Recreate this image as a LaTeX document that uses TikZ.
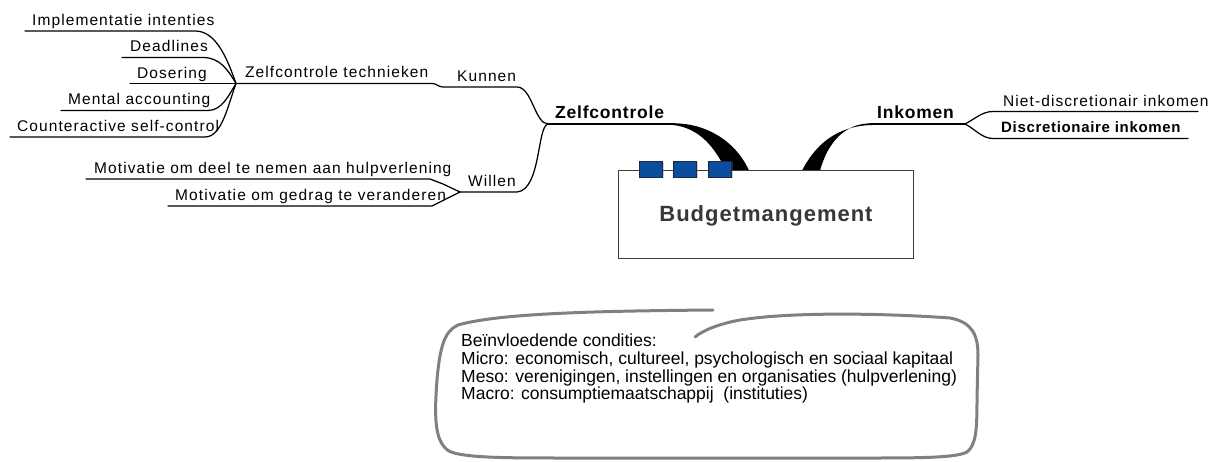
\documentclass[tikz,border=0pt]{standalone}
\usepackage{fontspec}
\setmainfont{Liberation Sans}
\newfontfamily\lsfont{Liberation Sans}[LetterSpace=7]
\newfontfamily\lsbfont{Liberation Sans}[LetterSpace=4.5]
\usetikzlibrary{shadows}
\definecolor{boxblue}{RGB}{12,78,158}
\definecolor{sqborder}{RGB}{25,40,70}
\definecolor{calloutgray}{RGB}{128,128,128}
\definecolor{titlegray}{RGB}{55,55,55}
\definecolor{boxline}{RGB}{60,60,60}
\begin{document}
\begin{tikzpicture}[x=1pt,y=-1pt,
  br/.style={line width=1.25pt,line cap=round,line join=round},
  lbl/.style={anchor=base west,inner sep=0pt,font=\lsfont\fontsize{15.5}{18}\selectfont},
  blbl/.style={anchor=base west,inner sep=0pt,font=\lsbfont\bfseries\fontsize{17.5}{20}\selectfont},
  sblbl/.style={anchor=base west,inner sep=0pt,font=\lsbfont\bfseries\fontsize{15}{18}\selectfont},
  wedge/.style={fill=black},
  mainbox/.style={draw=boxline,line width=1pt,fill=white,minimum width=295pt,minimum height=88pt,inner sep=0pt,anchor=north west},
  sq/.style={draw=sqborder,fill=boxblue,line width=0.8pt,minimum width=23.5pt,minimum height=16pt,inner sep=0pt,
    drop shadow={shadow xshift=1.2pt,shadow yshift=-1.2pt,opacity=0.35}},
  callout/.style={draw=calloutgray,line width=3pt,line cap=round,line join=round},
  condtext/.style={anchor=north west,inner sep=0pt,align=left,font=\fontsize{17.5}{17.6}\selectfont}]
\useasboundingbox (0,0) rectangle (1208,462);

% ---------- left tree labels ----------
\node[lbl] (impl) at (32,25.5) {Implementatie intenties};
\node[lbl] (dead) at (130,52) {Deadlines};
\node[lbl] (dos) at (137,78.5) {Dosering};
\node[lbl] (ment) at (68,105) {Mental accounting};
\node[lbl] (coun) at (17,131.5) {Counteractive self-control};
\node[lbl] (zt) at (245,78) {Zelfcontrole technieken};
\node[lbl] (kun) at (457,82) {Kunnen};
\node[blbl] (zc) at (555,119) {Zelfcontrole};
\node[lbl] (wil) at (468,187) {Willen};
\node[lbl] (mot1) at (94,174) {Motivatie om deel te nemen aan hulpverlening};
\node[lbl] (mot2) at (175,201) {Motivatie om gedrag te veranderen};

% ---------- right labels ----------
\node[blbl] (ink) at (877,119) {Inkomen};
\node[lbl] (nd) at (1003,106.5) {Niet-discretionair inkomen};
\node[sblbl] (di) at (1001,133) {Discretionaire inkomen};

% ---------- hubs ----------
\coordinate (hub) at (236,83.5);
\coordinate (zch) at (548,124);
\coordinate (wh) at (460,192);
\coordinate (ih) at (965,124);
\coordinate (zend) at (675,124);
\coordinate (iend) at (870,124);

% ---------- left tree lines ----------
\draw[br] (25,31) -- (195,31) .. controls (215,31) and (226,55) .. (hub);
\draw[br] (122,57.5) -- (203,57.5) .. controls (220,57.5) and (228,70) .. (hub);
\draw[br] (130,83.5) -- (hub);
\draw[br] (61,110.5) -- (208,110.5) .. controls (222,110.5) and (229,95) .. (hub);
\draw[br] (10,137) -- (205,137) .. controls (222,137) and (228,105) .. (hub);
\draw[br] (hub) -- (432,83.5) .. controls (437,83.5) and (438,87) .. (443,87) -- (517,87) .. controls (532,87) and (535,124) .. (zch);
\draw[br,line width=1.5pt] (zch) -- (zend);
\draw[br] (zch) .. controls (537,126) and (541,190) .. (517,192) -- (wh);
\draw[br] (86,179) -- (430,179) -- (443,184) -- (wh);
\draw[br] (168,206) -- (432,206) -- (wh);

% ---------- right lines ----------
\draw[br,line width=1.5pt] (iend) -- (ih);
\draw[br] (ih) .. controls (975,119) and (982,111.5) .. (993,111.5) -- (1198,111.5);
\draw[br] (ih) .. controls (975,129) and (982,138.5) .. (993,138.5) -- (1188,138.5);

% ---------- wedges ----------
\fill[wedge] (673,123.3) .. controls (705,123) and (735,140) .. (749,170.5) -- (726,170.5) .. controls (715,148) and (700,128) .. (673,125) -- cycle;
\fill[wedge] (872,123.3) .. controls (845,123) and (828,142) .. (820,170.5) -- (802,170.5) .. controls (815,146) and (835,126) .. (872,125) -- cycle;

% ---------- central box ----------
\node[mainbox] (box) at (618,170) {};
\node[anchor=base,inner sep=0pt,text=titlegray,font=\lsbfont\bfseries\fontsize{22}{26}\selectfont] (title) at (766,222) {Budgetmangement};
\node[sq] (s1) at (650.7,169) {};
\node[sq] (s2) at (685,169) {};
\node[sq] (s3) at (719.7,169) {};

% ---------- callout ----------
\draw[callout] (713,310) .. controls (600,311) and (500,313) .. (458,325) .. controls (445,331) and (440,345) .. (437,380)
  .. controls (434,420) and (435,442) .. (449,451) .. controls (462,458) and (510,458) .. (560,458) -- (880,458)
  .. controls (930,458) and (958,457) .. (967,452) .. controls (976,445) and (977,430) .. (977,400) -- (978,355)
  .. controls (978,335) and (972,322) .. (950,318) .. controls (880,313) and (790,312) .. (740,320)
  .. controls (718,324) and (702,331) .. (695,337);
\node[condtext] (cond) at (461,334) {Beïnvloedende condities:\\
Micro: economisch, cultureel, psychologisch en sociaal kapitaal\\
Meso: verenigingen, instellingen en organisaties (hulpverlening)\\
Macro: consumptiemaatschappij\ \ (instituties)};
\end{tikzpicture}
\end{document}
